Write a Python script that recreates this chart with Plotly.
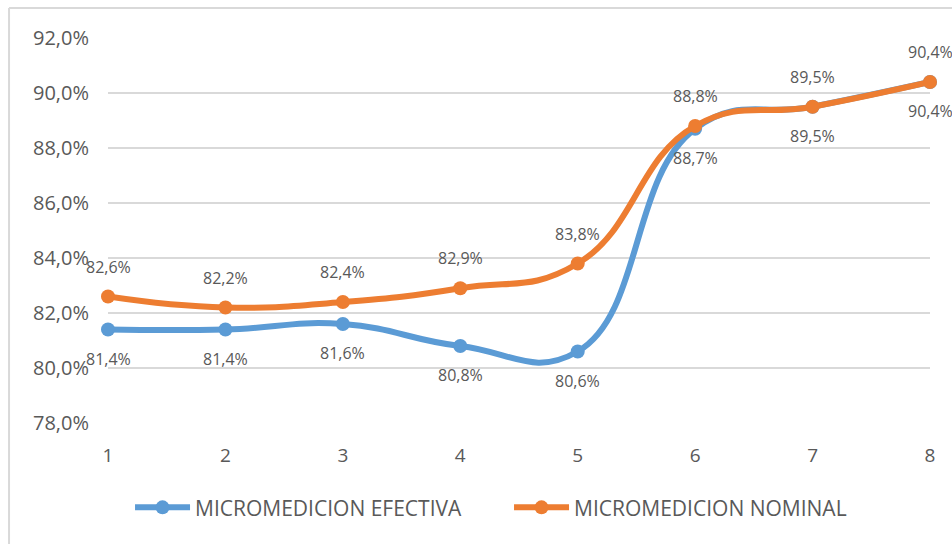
import plotly.graph_objects as go

# Series data (percent)
periods = [1, 2, 3, 4, 5, 6, 7, 8]
efectiva = [81.4, 81.4, 81.6, 80.8, 80.6, 88.7, 89.5, 90.4]
nominal = [82.6, 82.2, 82.4, 82.9, 83.8, 88.8, 89.5, 90.4]
y_ticks = [78, 80, 82, 84, 86, 88, 90, 92]

BLUE = "#5B9BD5"
ORANGE = "#ED7D31"
TEXT = "#595959"
GRID = "#D9D9D9"
FONT = "Open Sans"


def fmt(v):
    return f"{v:.1f}".replace(".", ",") + "%"


fig = go.Figure()
fig.add_trace(go.Scatter(
    x=periods, y=efectiva, name="MICROMEDICION EFECTIVA",
    mode="lines+markers",
    line=dict(color=BLUE, width=6, shape="spline", smoothing=1.3),
    marker=dict(color=BLUE, size=14),
    cliponaxis=False,
))
fig.add_trace(go.Scatter(
    x=periods, y=nominal, name="MICROMEDICION NOMINAL",
    mode="lines+markers",
    line=dict(color=ORANGE, width=6, shape="spline", smoothing=1.3),
    marker=dict(color=ORANGE, size=14),
    cliponaxis=False,
))

# Value labels: nominal above the point, efectiva below
annotations = []
for xv, yv in zip(periods, nominal):
    annotations.append(dict(x=xv, y=yv, text=fmt(yv), showarrow=False,
                            yshift=30, font=dict(size=16, color=TEXT, family=FONT)))
for xv, yv in zip(periods, efectiva):
    annotations.append(dict(x=xv, y=yv, text=fmt(yv), showarrow=False,
                            yshift=-29, font=dict(size=16, color=TEXT, family=FONT)))

# Chart-area border (left and top edges)
shapes = [
    dict(type="line", xref="paper", yref="paper", x0=-0.1204, x1=-0.1204,
         y0=-0.32, y1=1.078, line=dict(color=GRID, width=2)),
    dict(type="line", xref="paper", yref="paper", x0=-0.1204, x1=1.03,
         y0=1.078, y1=1.078, line=dict(color=GRID, width=2)),
]

fig.update_layout(
    width=952, height=544,
    margin=dict(l=108, r=22, t=38, b=121, autoexpand=False),
    paper_bgcolor="white", plot_bgcolor="white",
    font=dict(family=FONT, color=TEXT),
    annotations=annotations,
    shapes=shapes,
    legend=dict(
        orientation="h", x=0.0268, xanchor="left", y=-0.22, yanchor="middle",
        font=dict(size=21, color=TEXT, family=FONT),
        itemwidth=55, entrywidth=309, traceorder="normal",
    ),
    xaxis=dict(
        range=[1, 8], tickvals=periods, showgrid=False, zeroline=False,
        showline=False, ticks="", ticklabelstandoff=19,
        tickfont=dict(size=19, color=TEXT, family=FONT),
    ),
    yaxis=dict(
        range=[78, 92], tickmode="array", tickvals=y_ticks,
        ticktext=[fmt(v) for v in y_ticks],
        showgrid=True, gridcolor=GRID, gridwidth=1.5, zeroline=False,
        showline=False, ticks="", ticklabelstandoff=18,
        tickfont=dict(size=20, color=TEXT, family=FONT),
    ),
)

fig.write_html("out.html")
